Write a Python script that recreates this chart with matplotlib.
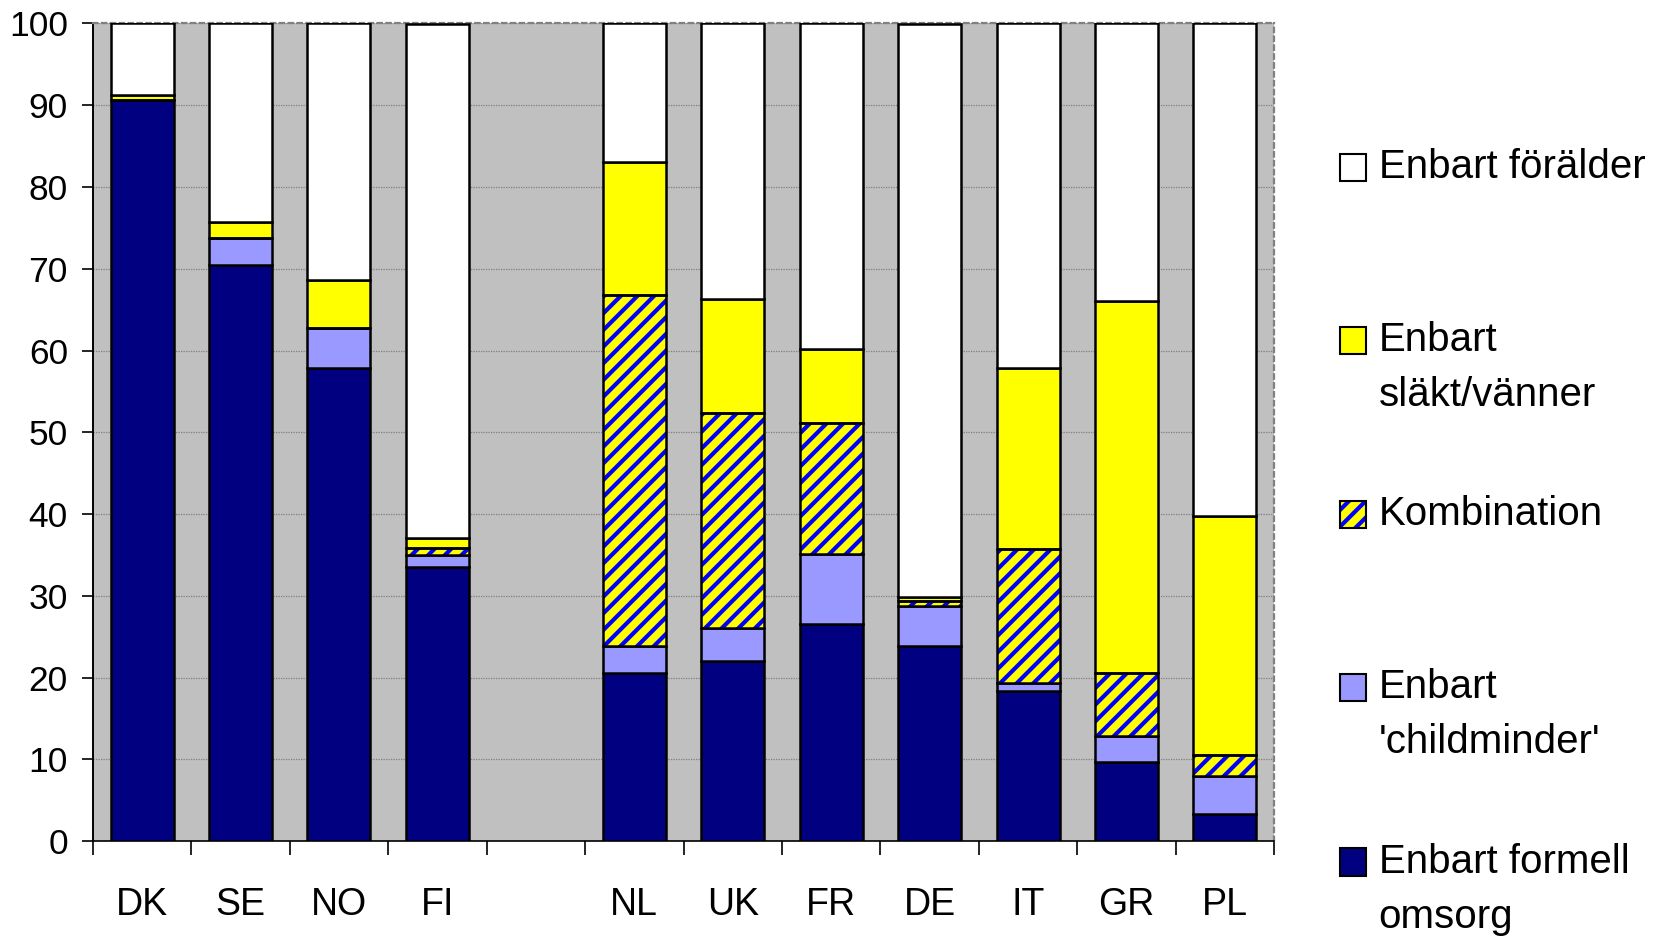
import numpy as np
import matplotlib.pyplot as plt
from matplotlib.patches import Rectangle

plt.rcParams['font.family'] = ['Liberation Sans', 'DejaVu Sans']
plt.rcParams['hatch.linewidth'] = 3.0

# Categories (empty slot separates the Nordic group from the rest)
countries = ['DK', 'SE', 'NO', 'FI', '', 'NL', 'UK', 'FR', 'DE', 'IT', 'GR', 'PL']

# Stacked shares (%), bottom to top
formell = [90.7, 70.5, 57.8, 33.5, 0, 20.6, 22.0, 26.6, 23.9, 18.3, 9.7, 3.3]
childminder = [0.0, 3.3, 4.9, 1.5, 0, 3.2, 4.0, 8.5, 4.8, 1.0, 3.2, 4.6]
kombination = [0.0, 0.0, 0.0, 0.8, 0, 43.0, 26.4, 16.0, 0.6, 16.4, 7.7, 2.6]
slakt = [0.6, 1.9, 5.9, 1.3, 0, 16.3, 13.9, 9.1, 0.6, 22.1, 45.5, 29.3]

labels = ['Enbart formell\nomsorg', "Enbart\n'childminder'", 'Kombination',
          'Enbart\nsläkt/vänner', 'Enbart förälder']
colors = ['#000080', '#9999FF', '#FFFF00', '#FFFF00', '#FFFFFF']

fig = plt.figure(figsize=(16.59, 9.40), dpi=100)
ax = fig.add_axes([0.056, 0.1053, 0.712, 0.8697])
ax.set_facecolor('#C0C0C0')

x = np.arange(len(countries))
w = 0.64
mask = np.array([c != '' for c in countries])
xs = x[mask]

f = np.array(formell)[mask]
c = np.array(childminder)[mask]
k = np.array(kombination)[mask]
s = np.array(slakt)[mask]
total = f + c + k + s
parent = 100 - total

ax.bar(xs, f, w, color=colors[0], edgecolor='black', linewidth=1.8, zorder=3)
ax.bar(xs, c, w, bottom=f, color=colors[1], edgecolor='black', linewidth=1.8, zorder=3)
# combination: yellow with blue diagonal stripes, black outline on top
ax.bar(xs, k, w, bottom=f + c, color='#FFFF00', edgecolor='#0000FF', hatch='//',
       linewidth=0, zorder=3)
ax.bar(xs, k, w, bottom=f + c, color='none', edgecolor='black', linewidth=1.8, zorder=4)
ax.bar(xs, s, w, bottom=f + c + k, color=colors[3], edgecolor='black', linewidth=1.8, zorder=3)
ax.bar(xs, parent, w, bottom=total, color=colors[4], edgecolor='black', linewidth=1.8, zorder=3)

ax.set_xlim(-0.5, len(countries) - 0.5)
ax.set_ylim(0, 100)
ax.set_yticks(np.arange(0, 101, 10))
ax.yaxis.grid(True, color='#808080', linestyle=(0, (1, 1)), linewidth=0.9, zorder=1)
ax.set_axisbelow(True)

ax.set_xticks(x)
ax.set_xticklabels(countries)
ax.set_xticks(np.arange(-0.5, len(countries), 1), minor=True)
ax.tick_params(axis='x', which='major', length=0, pad=33, labelsize=27)
ax.tick_params(axis='x', which='minor', length=10, width=1.2, direction='out')
ax.tick_params(axis='y', length=8, width=1.2, labelsize=25.5, pad=10)

ax.spines['left'].set_linewidth(1.4)
ax.spines['bottom'].set_linewidth(1.2)
for side in ['top', 'right']:
    ax.spines[side].set_color('#808080')
    ax.spines[side].set_linestyle((0, (2, 2)))
    ax.spines[side].set_linewidth(1.6)

# legend drawn by hand, top entry first
entries = list(zip(labels, colors))[::-1]
hatches = ['', '', '//', '', ''][::-1]
ys = [0.822, 0.638, 0.453, 0.269, 0.083]
line_gap = 0.0585
bw, bh = 0.0155, 0.029
for (lab, col), hat, yy in zip(entries, hatches, ys):
    if hat:
        fig.patches.append(Rectangle((0.808, yy - bh / 2), bw, bh, transform=fig.transFigure,
                                     facecolor=col, edgecolor='#0000FF', hatch=hat,
                                     linewidth=0, figure=fig))
        fig.patches.append(Rectangle((0.808, yy - bh / 2), bw, bh, transform=fig.transFigure,
                                     facecolor='none', edgecolor='black', linewidth=1.5, figure=fig))
    else:
        fig.patches.append(Rectangle((0.808, yy - bh / 2), bw, bh, transform=fig.transFigure,
                                     facecolor=col, edgecolor='black', linewidth=1.5, figure=fig))
    for i, line in enumerate(lab.split('\n')):
        fig.text(0.831, yy - i * line_gap, line, fontsize=29, va='center', ha='left')

fig.savefig('out.png', dpi=100)
